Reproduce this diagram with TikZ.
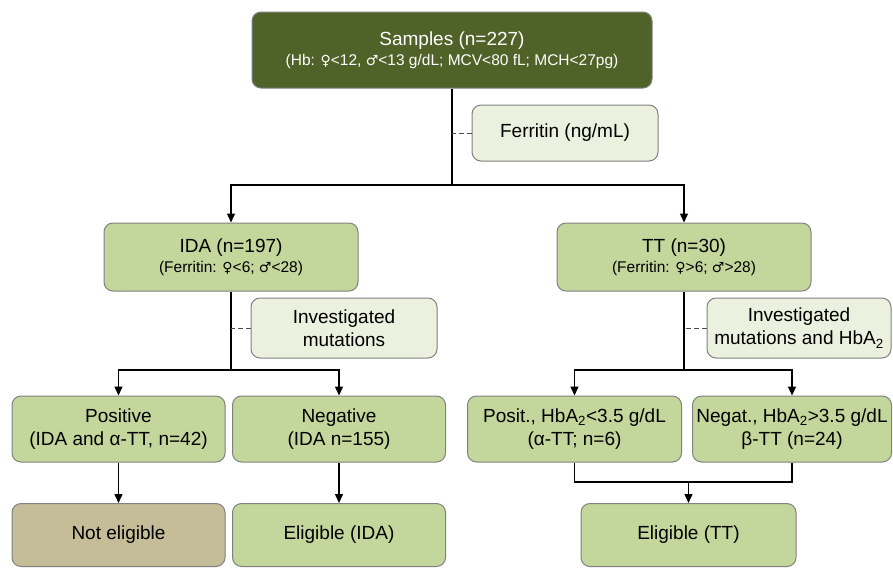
\documentclass[tikz,border=0pt]{standalone}
\usepackage{fontspec}
\setmainfont{Liberation Sans}
\newfontfamily\symfont{DejaVu Sans}
\usetikzlibrary{arrows.meta,positioning}

\definecolor{olivedark}{HTML}{4F6228}
\definecolor{olivemid}{HTML}{C3D69B}
\definecolor{olivelight}{HTML}{EBF1DE}
\definecolor{tanbox}{HTML}{C4BD97}
\definecolor{rimgray}{HTML}{808080}

\newcommand{\fem}{{\symfont\fontsize{14}{16}\selectfont ♀}}
\newcommand{\mal}{{\symfont\fontsize{14}{16}\selectfont ♂}}
\newcommand{\subline}{\fontsize{15.5}{18}\selectfont}

\begin{document}
\begin{tikzpicture}[x=1pt, y=-1pt,
		font=\fontsize{19}{23}\selectfont,
		box/.style={draw=rimgray, line width=1pt, rounded corners=9pt, fill=olivemid,
			align=center, minimum width=214pt, minimum height=66pt, inner sep=2pt},
		topbox/.style={box, fill=olivedark, text=white, minimum width=400pt, minimum height=76pt},
		notebox/.style={box, fill=olivelight, minimum width=186pt, minimum height=56pt},
		arr/.style={line width=1.4pt, -{Triangle[length=9pt, width=8pt]}},
		link/.style={line width=1.4pt},
		hint/.style={line width=1pt, dashed, dash pattern=on 5pt off 3pt, draw=black!70},
	]
		\useasboundingbox (0,0) rectangle (893,568);

		% top of the tree
		\node[topbox] (samples) at (452,50) {Samples (n=227)\\[-3pt]
			{\subline (Hb: \fem<12, \mal<13 g/dL; MCV<80 fL; MCH<27pg)}};
		\node[notebox] (ferritin) at (565,133) {Ferritin (ng/mL)};

		% second level
		\node[box, minimum width=254pt, minimum height=68pt] (ida) at (231,257) {IDA (n=197)\\[-3pt]
			{\subline (Ferritin: \fem<6; \mal<28)}};
		\node[box, minimum width=254pt, minimum height=68pt] (tt) at (684,257) {TT (n=30)\\[-3pt]
			{\subline (Ferritin: \fem>6; \mal>28)}};
		\node[notebox, minimum height=60pt] (mutida) at (344,328) {Investigated\\mutations};
		\node[notebox, minimum width=184pt, minimum height=60pt] (muttt) at (799,328) {Investigated\\mutations and HbA\textsubscript{2}};

		% third level
		\node[box, minimum width=213pt] (pos) at (118.5,429) {Positive\\(IDA and α-TT, n=42)};
		\node[box, minimum width=213pt] (neg) at (339,429) {Negative\\(IDA n=155)};
		\node[box, minimum width=214pt] (posit) at (574.5,429) {Posit., HbA\textsubscript{2}<3.5 g/dL\\(α-TT; n=6)};
		\node[box, minimum width=199pt, inner sep=0pt] (negat) at (792,429) {Negat., HbA\textsubscript{2}>3.5 g/dL\\β-TT (n=24)};

		% outcomes
		\node[box, fill=tanbox, minimum width=213pt, minimum height=63pt] (noelig) at (118.5,535) {Not eligible};
		\node[box, minimum width=213pt, minimum height=63pt] (eligida) at (339,535) {Eligible (IDA)};
		\node[box, minimum width=215pt, minimum height=63pt] (eligtt) at (688.5,535) {Eligible (TT)};

		% connectors
		\coordinate (split) at (452,185);
		\draw[link] (samples.south) -- (split);
		\draw[arr] (split) -| (ida.north);
		\draw[arr] (split) -| (tt.north);
		\draw[hint] (ferritin.west) -- (ferritin.west -| samples.south);

		\coordinate (splitida) at (231,370);
		\draw[link] (ida.south) -- (splitida);
		\draw[arr] (splitida) -| (pos.north);
		\draw[arr] (splitida) -| (neg.north);
		\draw[hint] (mutida.west) -- (mutida.west -| ida.south);

		\coordinate (splittt) at (684,370);
		\draw[link] (tt.south) -- (splittt);
		\draw[arr] (splittt) -| (posit.north);
		\draw[arr] (splittt) -| (negat.north);
		\draw[hint] (muttt.west) -- (muttt.west -| tt.south);

		\draw[arr] (pos) -- (noelig);
		\draw[arr] (neg) -- (eligida);

		\coordinate (join) at (688.5,482);
		\draw[link, line width=1.8pt] (posit.south) |- (join) -| (negat.south);
		\draw[arr] (join) -- (eligtt.north);
	\end{tikzpicture}
\end{document}
